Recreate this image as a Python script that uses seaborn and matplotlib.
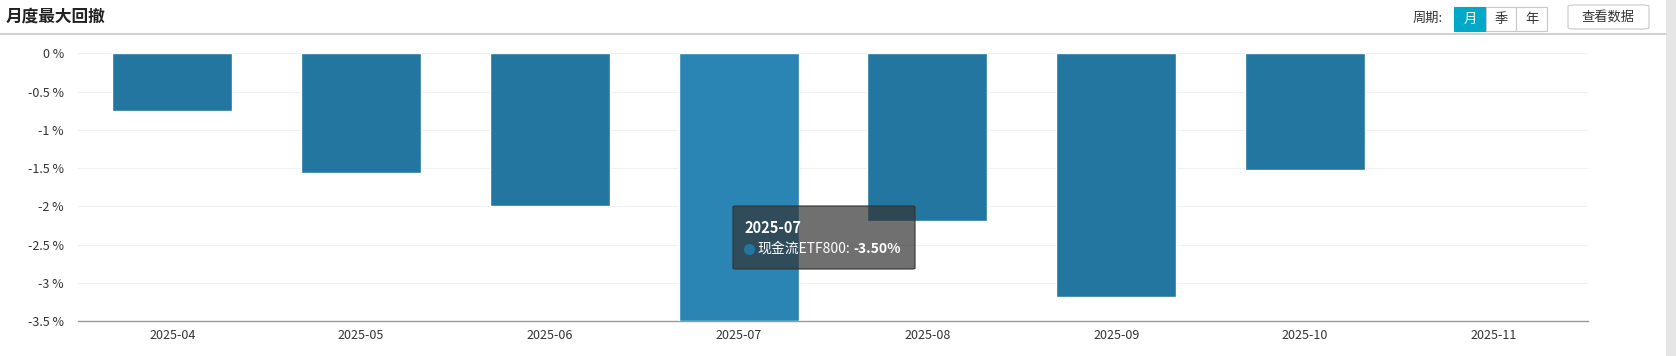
import numpy as np
import pandas as pd
import matplotlib
matplotlib.use("Agg")
import matplotlib.pyplot as plt
from matplotlib.patches import FancyBboxPatch, Rectangle
import seaborn as sns

# datos
meses = ['2025-04', '2025-05', '2025-06', '2025-07', '2025-08', '2025-09', '2025-10', '2025-11']
drawdown = [-0.75, -1.57, -1.99, -3.50, -2.19, -3.19, -1.53, np.nan]
y_ticks = [0, -0.5, -1, -1.5, -2, -2.5, -3, -3.5]
y_labels = ['0 %', '-0.5 %', '-1 %', '-1.5 %', '-2 %', '-2.5 %', '-3 %', '-3.5 %']
mes_activo = '2025-07'
serie = '现金流ETF800'

COLOR_BAR = '#22769f'
COLOR_HOVER = '#2a85b5'

sns.set_theme(style="white")
plt.rcParams['font.family'] = ['Noto Sans CJK SC', 'DejaVu Sans']

W, H = 1676, 356
fig = plt.figure(figsize=(W / 100, H / 100), dpi=100)
fig.patch.set_facecolor('white')

def fx(px):
    return px / W

def fy(py):
    return 1 - py / H

ax = fig.add_axes([fx(78), fy(321), fx(1588) - fx(78), fy(53.3) - fy(321)])

df = pd.DataFrame({'mes': meses, 'valor': drawdown})
colores = {m: (COLOR_HOVER if m == mes_activo else COLOR_BAR) for m in meses}
sns.barplot(data=df, x='mes', y='valor', hue='mes', order=meses, palette=colores,
            legend=False, width=0.635, saturation=1, ax=ax, zorder=3)

ax.set_xlim(-0.5, len(meses) - 0.5)
ax.set_ylim(-3.5, 0)
ax.set_yticks(y_ticks)
ax.set_yticklabels(y_labels)
ax.set_xlabel('')
ax.set_ylabel('')

# rejilla horizontal tenue
for v in y_ticks[:-1]:
    ax.axhline(v, color='#f0f1f5', lw=0.8, zorder=1)

for s in ['left', 'right', 'top']:
    ax.spines[s].set_visible(False)
ax.spines['bottom'].set_color('#999999')
ax.spines['bottom'].set_linewidth(1)

ax.set_xticks(range(len(meses)))
ax.set_xticklabels(meses)
ax.tick_params(axis='x', length=0, pad=6, labelsize=9, labelcolor='#333333')
ax.set_xticks(np.arange(-0.5, len(meses), 1), minor=True)
ax.tick_params(axis='x', which='minor', length=5, color='#999999', width=1, direction='out')
ax.tick_params(axis='y', length=0, pad=10, labelsize=9, labelcolor='#333333')

# titulo y linea de cabecera
fig.text(fx(6), fy(17), '月度最大回撤', fontsize=12, fontweight='bold', color='#222222', va='center', ha='left')
fig.add_artist(plt.Line2D([0, fx(1666)], [fy(34), fy(34)], color='#c8c8c8', lw=1.2))

# barra de desplazamiento
fig.add_artist(Rectangle((fx(1666), 0), fx(10), 1, color='#e6e6e6', lw=0))

# selector de periodo
fig.text(fx(1443), fy(18), '周期:', fontsize=9.5, color='#333333', va='center', ha='right')
botones = [('月', 1454, 1486), ('季', 1486, 1516), ('年', 1516, 1547)]
for txt, x0, x1 in botones:
    activo = txt == '月'
    fig.add_artist(Rectangle((fx(x0), fy(31)), fx(x1 - x0), fy(7) - fy(31),
                             facecolor='#00a9c8' if activo else 'white',
                             edgecolor='#00a9c8' if activo else '#c8c8c8', lw=0.8))
    fig.text(fx((x0 + x1) / 2), fy(19), txt, fontsize=9.5,
             color='white' if activo else '#333333', va='center', ha='center')

fig.add_artist(FancyBboxPatch((fx(1568), fy(29)), fx(81), fy(5) - fy(29),
                              boxstyle='round,pad=0,rounding_size=0.004',
                              facecolor='white', edgecolor='#c8c8c8', lw=0.8))
fig.text(fx(1608), fy(17), '查看数据', fontsize=9.5, color='#333333', va='center', ha='center')

# tooltip
fig.add_artist(FancyBboxPatch((fx(733), fy(269)), fx(182), fy(206) - fy(269),
                              boxstyle='round,pad=0,rounding_size=0.002',
                              facecolor=(0.2, 0.2, 0.2, 0.7), edgecolor='#333333', lw=0.8,
                              zorder=10))
valor_activo = drawdown[meses.index(mes_activo)]
fig.text(fx(744), fy(228), mes_activo, fontsize=10.5, fontweight='bold', color='white',
         va='center', ha='left', zorder=11)
punto = plt.Line2D([fx(749)], [fy(249)], marker='o', markersize=7, color=COLOR_BAR,
                   linestyle='none', transform=fig.transFigure, zorder=11)
fig.add_artist(punto)
fig.text(fx(757), fy(249), f'{serie}:', fontsize=10, color='white', va='center', ha='left', zorder=11)
fig.text(fx(853), fy(249), f'{valor_activo:.2f}%', fontsize=10, fontweight='bold', color='white',
         va='center', ha='left', zorder=11)

fig.savefig('out.png', dpi=100)
